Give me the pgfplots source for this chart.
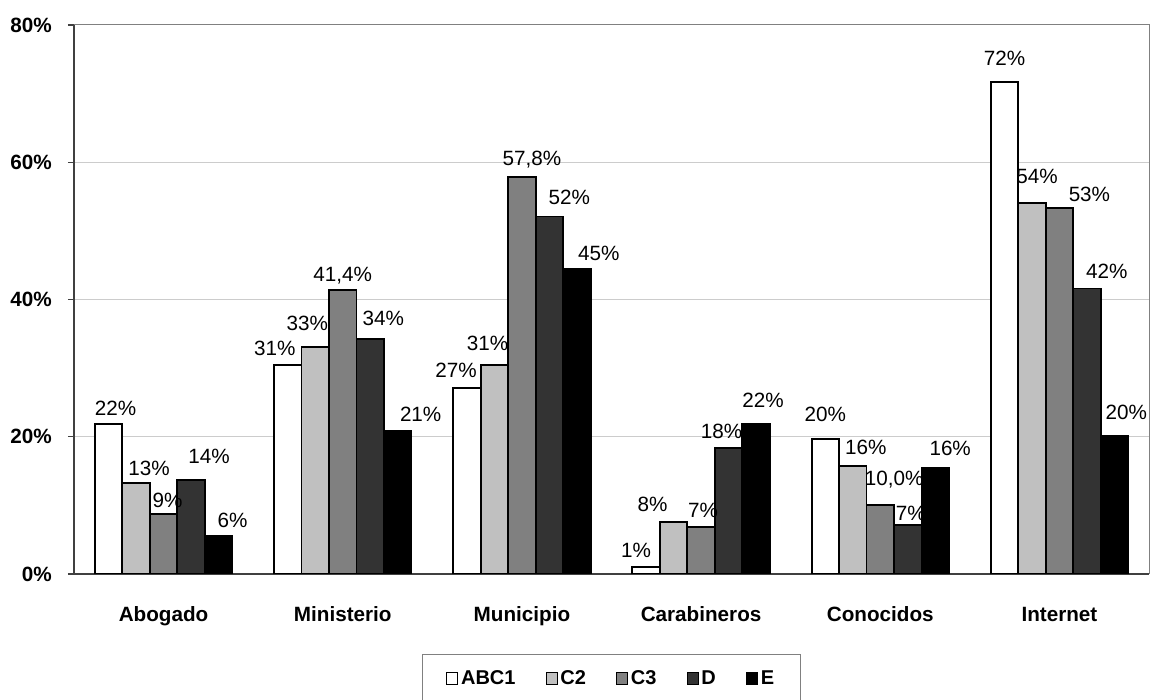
\documentclass[border=0pt]{standalone}
\usepackage{pgfplots}
\pgfplotsset{compat=1.18}
\usepackage{fontspec}
\setmainfont{Liberation Sans}
\newdimen\px \px=0.75pt
\DeclareRobustCommand\lb[3]{\makebox[0pt][l]{\kern#1\px\makebox[0pt]{\raisebox{#2\px}[0pt][0pt]{#3}}}}
\definecolor{cC2}{HTML}{C0C0C0}
\definecolor{cC3}{HTML}{808080}
\definecolor{cD}{HTML}{333333}
\definecolor{cE}{HTML}{000000}
\definecolor{axdark}{HTML}{404040}
\definecolor{gridc}{HTML}{CCCCCC}
\begin{document}
\begin{tikzpicture}
\begin{axis}[
  scale only axis,
  width=806.25pt, height=411.75pt,
  xmin=-0.5, xmax=5.5, ymin=0, ymax=80,
  ybar=0pt, bar width=20.6pt,
  axis x line*=bottom, axis y line*=left,
  axis line style={axdark, line width=1.4pt},
  xtick={0,1,2,3,4,5},
  xticklabels={Abogado,Ministerio,Municipio,Carabineros,Conocidos,Internet},
  x tick style={draw=none},
  extra x ticks={-0.5,0.5,1.5,2.5,3.5,4.5,5.5},
  extra x tick labels={},
  extra x tick style={tick style={draw=axdark, line width=0.8pt}, major tick length=4.5pt, tick align=outside, grid=none},
  ytick={0,20,40,60,80},
  yticklabels={0\%,20\%,40\%,60\%,80\%},
  y tick style={draw=axdark, line width=0.8pt},
  tick align=outside, major tick length=4.5pt,
  ymajorgrids, major grid style={gridc, line width=0.75pt},
  ticklabel style={font=\fontsize{15.5}{18}\selectfont\bfseries},
  yticklabel style={anchor=east, inner sep=0pt, xshift=-12pt},
  xticklabel style={anchor=base, inner sep=0pt, yshift=-31.5pt},
  point meta=explicit symbolic,
  nodes near coords,
  every node near coord/.append style={anchor=south, inner sep=0pt, font=\fontsize{15.5}{18}\selectfont},
  legend columns=5,
  legend style={at={(0.5,-0.1457)}, anchor=north, draw=gray, line width=0.75pt,
    font=\fontsize{15}{18}\selectfont\bfseries, inner xsep=18pt, inner ysep=10pt,
    /tikz/every even column/.append style={column sep=20.5pt}},
  legend image code/.code={\draw[#1, line width=0.8pt, draw=black] (0pt,-4.2pt) rectangle (8.4pt,4.2pt);},
  every axis plot/.append style={draw=black, line width=1.4pt},
  after end axis/.code={\draw[gray, line width=0.75pt] (rel axis cs:0,1) -- (rel axis cs:1,1) -- (rel axis cs:1,0);},
]
\addplot[fill=white] coordinates {
 (0,21.9) [\lb{7}{7}{22\%}]
 (1,30.4) [\lb{-13}{8}{31\%}]
 (2,27.1) [\lb{-11}{9}{27\%}]
 (3,1.0)  [\lb{-10}{8}{1\%}]
 (4,19.7) [\lb{0}{16}{20\%}]
 (5,71.7) [\lb{0}{15}{72\%}]
};
\addplot[fill=cC2] coordinates {
 (0,13.2) [\lb{13}{6}{13\%}]
 (1,33.1) [\lb{-8}{15}{33\%}]
 (2,30.5) [\lb{-7}{13}{31\%}]
 (3,7.6)  [\lb{-21}{9}{8\%}]
 (4,15.7) [\lb{13}{10}{16\%}]
 (5,54.1) [\lb{5}{18}{54\%}]
};
\addplot[fill=cC3] coordinates {
 (0,8.7)  [\lb{4}{5}{9\%}]
 (1,41.4) [\lb{0}{7}{41,4\%}]
 (2,57.8) [\lb{10}{10}{57,8\%}]
 (3,6.8)  [\lb{2}{8}{7\%}]
 (4,10.0) [\lb{14}{18}{10,0\%}]
 (5,53.3) [\lb{30}{5}{53\%}]
};
\addplot[fill=cD] coordinates {
 (0,13.7) [\lb{18}{15}{14\%}]
 (1,34.3) [\lb{13}{12}{34\%}]
 (2,52.1) [\lb{20}{10}{52\%}]
 (3,18.3) [\lb{-7}{8}{18\%}]
 (4,7.1)  [\lb{3}{3}{7\%}]
 (5,41.6) [\lb{20}{8}{42\%}]
};
\addplot[fill=cE] coordinates {
 (0,5.5)  [\lb{14}{7}{6\%}]
 (1,20.9) [\lb{23}{7}{21\%}]
 (2,44.5) [\lb{22}{7}{45\%}]
 (3,21.8) [\lb{7}{15}{22\%}]
 (4,15.4) [\lb{15}{11}{16\%}]
 (5,20.1) [\lb{12}{15}{20\%}]
};
\legend{ABC1,C2,C3,D,E}
\end{axis}
\pgfresetboundingbox
\path[use as bounding box] ([shift={(-55.5pt,-94.5pt)}]current axis.south west) rectangle ([shift={(1.5pt,18.75pt)}]current axis.north east);
\end{tikzpicture}
\end{document}
